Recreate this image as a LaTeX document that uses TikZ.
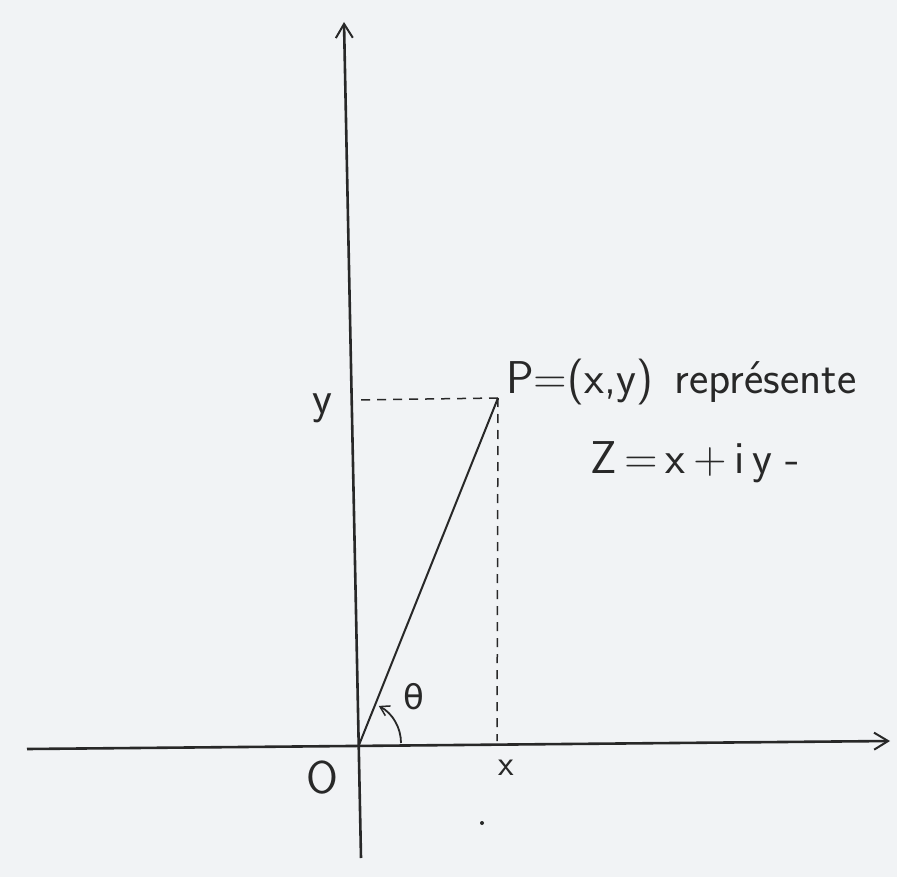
\documentclass[tikz,border=0pt]{standalone}
\usepackage{fontspec}
\newfontfamily\greekfont{DejaVu Sans}
\usetikzlibrary{arrows.meta}
\definecolor{paper}{RGB}{241,243,245}
\definecolor{ink}{RGB}{40,40,40}
\begin{document}
\begin{tikzpicture}[x=1pt,y=-1pt,
  axis/.style={draw=ink,line width=2.6pt,-{Straight Barb[length=14pt,width=17pt,line width=2pt]}},
  guide/.style={draw=ink,line width=1.5pt,dash pattern=on 9pt off 7pt},
  vec/.style={draw=ink,line width=2pt},
  lbl/.style={text=ink,font=\sffamily\fontsize{46}{52}\selectfont,inner sep=0pt},
  lbls/.style={text=ink,font=\sffamily\fontsize{36}{42}\selectfont,inner sep=0pt}]
\fill[paper] (0,0) rectangle (897,877);
\useasboundingbox (0,0) rectangle (897,877);
% key points
\coordinate (O) at (359,745);
\coordinate (P) at (498,398);
\coordinate (xl) at (27,749);
\coordinate (xr) at (890,741);
\coordinate (yb) at (361,858);
\coordinate (yt) at (344,22);
\coordinate (Py) at (355,400);
\coordinate (Px) at (497,741);
% axes
\draw[axis] (xl) -- (xr);
\draw[axis] (yb) -- (yt);
% guides
\draw[guide] (P) -- (Py);
\draw[guide] (P) -- (Px);
% vector
\draw[vec] (O) -- (P);
% angle arc
\draw[draw=ink,line width=1.8pt,-{Straight Barb[length=9pt,width=11pt,line width=1.5pt]}] ([shift={(42,-2)}]O) arc[start angle=0,end angle=-62,radius=42];
% labels
\node[lbl] (ylab) at (322,408) {y};
\node[lbl] (olab) at (322,778) {O};
\node[lbls] (xlab) at (506,768) {x};
\node[text=ink,inner sep=0pt,font=\greekfont\fontsize{34}{40}\selectfont] (tlab) at (414,697) {θ};
\node[lbl,anchor=west] (plab) at (506,382) {P=(x,y)\, représente};
\node[lbl,anchor=west] (zlab) at (590,462) {Z\,=\,x\,+\,i\,y\;-};
\fill[ink] (482,823) circle (2);
\end{tikzpicture}
\end{document}
